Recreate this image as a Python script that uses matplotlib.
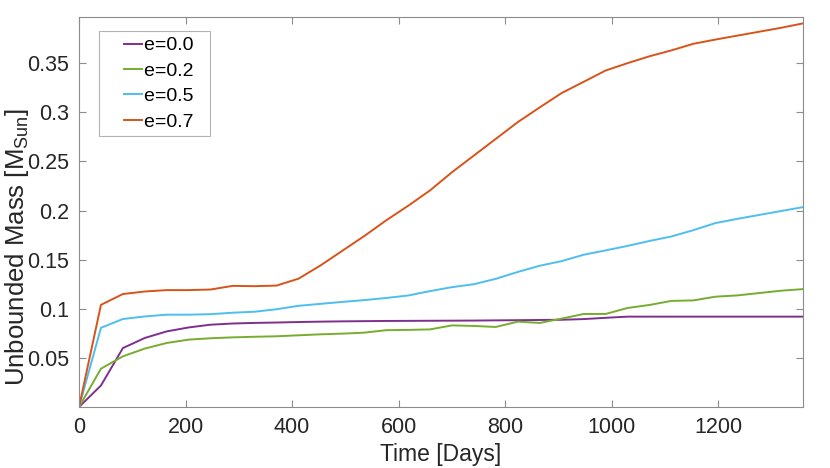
import matplotlib
matplotlib.use("Agg")
import matplotlib.pyplot as plt
from matplotlib.legend_handler import HandlerLine2D

plt.rcParams['font.family'] = ['Liberation Sans', 'DejaVu Sans']
plt.rcParams['mathtext.fontset'] = 'custom'
plt.rcParams['mathtext.rm'] = 'Liberation Sans'

# time samples (days)
days = [0, 41.2, 82.4, 123.6, 164.8, 206.0, 247.2, 288.4, 329.6, 370.8,
        412.0, 453.2, 494.4, 535.6, 576.8, 618.0, 659.2, 700.4, 741.6, 782.8,
        824.0, 865.2, 906.4, 947.6, 988.8, 1030.0, 1071.2, 1112.4, 1153.6,
        1194.8, 1236.0, 1277.2, 1318.4, 1359.6]

# unbound mass per eccentricity (M_sun)
mass_e00 = [0, 0.0219, 0.060, 0.0703, 0.077, 0.081, 0.0838, 0.085, 0.0856, 0.086,
            0.0865, 0.0869, 0.0872, 0.0874, 0.0876, 0.0877, 0.0878, 0.0879, 0.088, 0.0882,
            0.0884, 0.0886, 0.0888, 0.0895, 0.0908, 0.092, 0.092, 0.092, 0.092,
            0.092, 0.092, 0.092, 0.092, 0.092]
mass_e02 = [0, 0.039, 0.0516, 0.0595, 0.0652, 0.0686, 0.0700, 0.0709, 0.0715, 0.072,
            0.073, 0.074, 0.0747, 0.0757, 0.0782, 0.0785, 0.079, 0.0831, 0.0825, 0.0815,
            0.0869, 0.0856, 0.090, 0.0947, 0.0947, 0.1008, 0.1039, 0.108, 0.1085,
            0.1123, 0.1136, 0.116, 0.1184, 0.120]
mass_e05 = [0, 0.0806, 0.0896, 0.0922, 0.094, 0.094, 0.0945, 0.096, 0.097, 0.0995,
            0.103, 0.105, 0.107, 0.1088, 0.111, 0.1135, 0.118, 0.122, 0.125, 0.1305,
            0.1375, 0.1438, 0.1485, 0.155, 0.1594, 0.164, 0.169, 0.1736, 0.180,
            0.1872, 0.1915, 0.1955, 0.1995, 0.2035]
mass_e07 = [0, 0.104, 0.115, 0.1176, 0.119, 0.119, 0.1196, 0.1233, 0.123, 0.1236,
            0.1306, 0.144, 0.159, 0.174, 0.190, 0.2048, 0.2205, 0.239, 0.256, 0.273,
            0.290, 0.305, 0.3196, 0.331, 0.3425, 0.350, 0.357, 0.363, 0.3697,
            0.374, 0.378, 0.382, 0.386, 0.3905]

labels = ['e=0.0', 'e=0.2', 'e=0.5', 'e=0.7']
colors = ['#7E2F8E', '#77AC30', '#4DBEEE', '#D95319']
xticks = [0, 200, 400, 600, 800, 1000, 1200]
yticks = [0.05, 0.1, 0.15, 0.2, 0.25, 0.3, 0.35]


class ShortLine(HandlerLine2D):
    # matlab style legend: short line sitting right next to the text
    def get_xdata(self, legend, xdescent, ydescent, width, height, fontsize):
        xd = [width * 0.52 - xdescent, width - xdescent]
        return xd, xd


fig = plt.figure(figsize=(8.3, 4.68), dpi=100)
ax = fig.add_axes([0.0952, 0.1303, 0.8723, 0.8334])

for m, lab, c in zip([mass_e00, mass_e02, mass_e05, mass_e07], labels, colors):
    ax.plot(days, m, color=c, lw=1.4, label=lab)

ax.set_xlim(0, 1359.6)
ax.set_ylim(0, 0.397)
ax.set_xticks(xticks)
ax.set_xticklabels([str(v) for v in xticks])
ax.set_yticks(yticks)
ax.set_yticklabels(['0.05', '0.1', '0.15', '0.2', '0.25', '0.3', '0.35'])

ax.tick_params(direction='in', top=True, right=True, length=5, width=0.8,
               color='#8c8c8c', labelsize=15.5, labelcolor='#262626', pad=7)
for s in ax.spines.values():
    s.set_color('#8c8c8c')
    s.set_linewidth(0.8)

ax.set_xlabel('Time [Days]', fontsize=16.5, color='#262626', labelpad=4)
ax.set_ylabel(r'Unbounded Mass [M$_{\mathrm{Sun}}$]', fontsize=18.5, color='#262626')
ax.yaxis.set_label_coords(-0.066, 0.41)

leg = ax.legend(loc='upper left', bbox_to_anchor=(0.027, 0.964), fontsize=14,
                frameon=True, fancybox=False, edgecolor='#a0a0a0', handlelength=1.95,
                handletextpad=0.1, borderpad=0.3, labelspacing=0.4, borderaxespad=0,
                handler_map={plt.Line2D: ShortLine()},
                labels=[l + '  ' for l in labels],
                handles=ax.get_lines())
leg.get_frame().set_linewidth(0.8)

fig.savefig('out.png', dpi=100)
